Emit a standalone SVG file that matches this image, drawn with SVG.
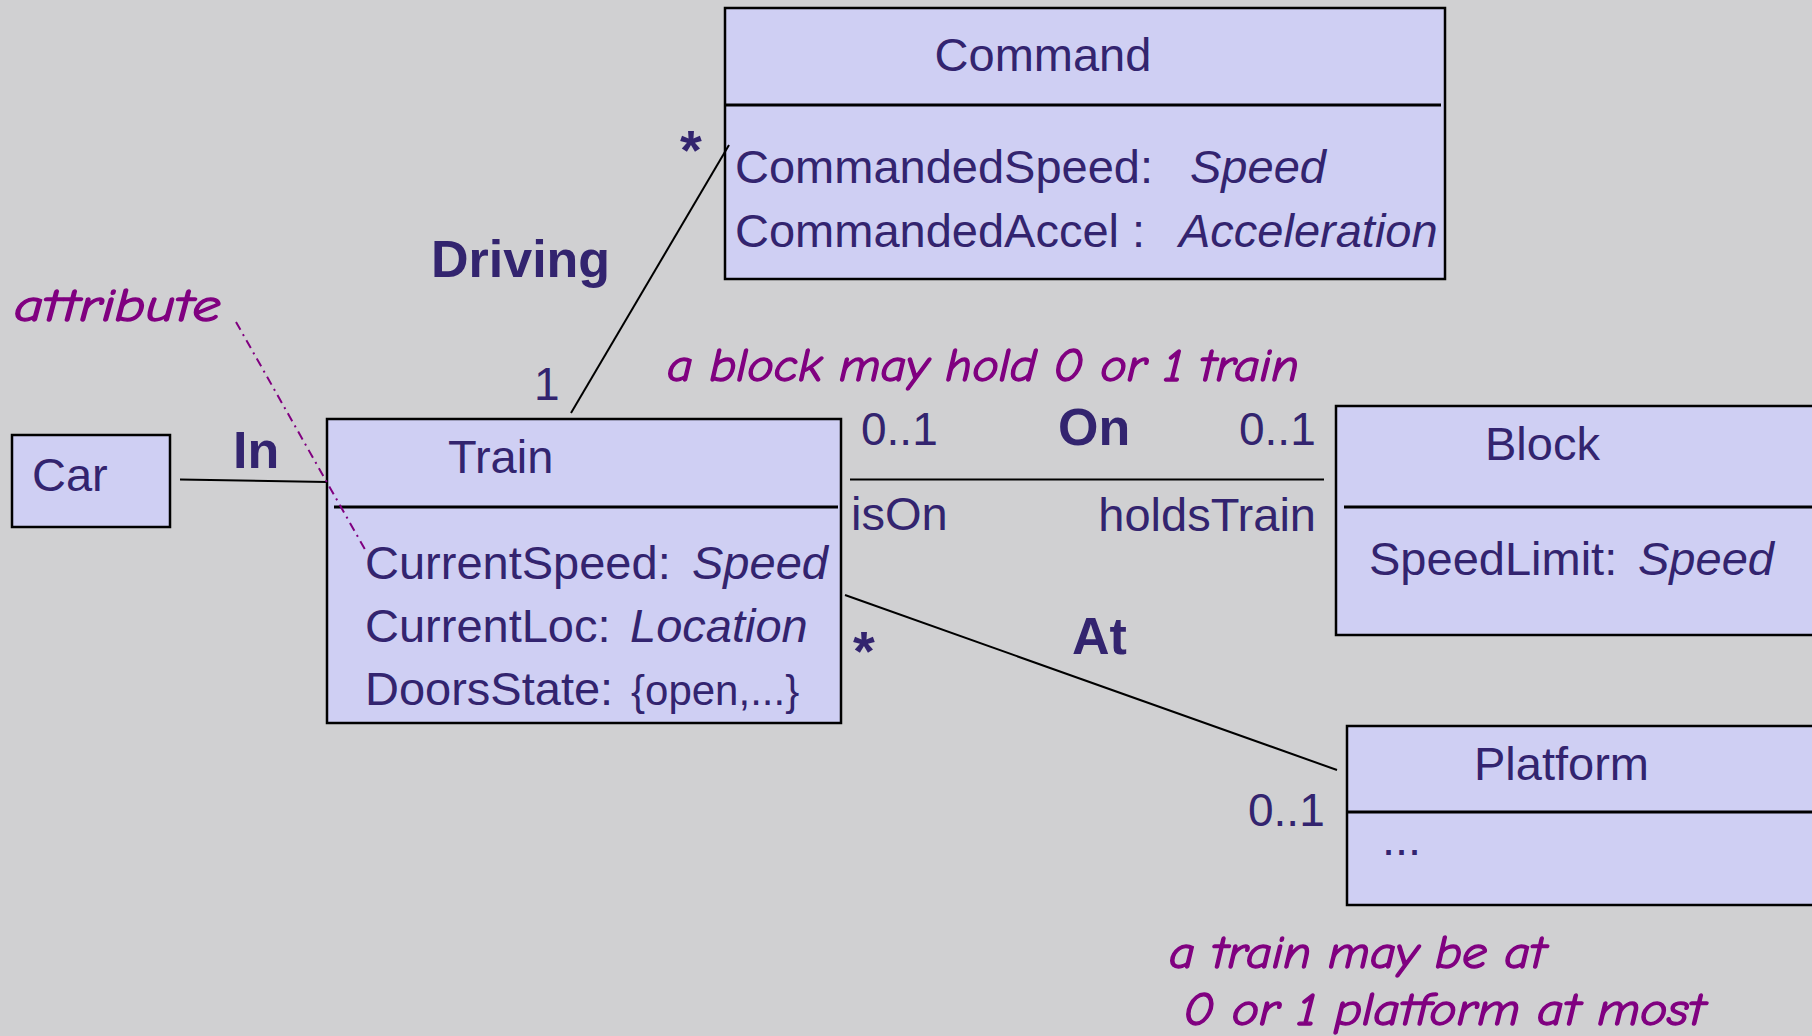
<svg xmlns="http://www.w3.org/2000/svg" width="1812" height="1036" viewBox="0 0 1812 1036">
  <style>
    .box { fill: #CFCFF3; stroke: #000; stroke-width: 2.5; }
    .div { stroke: #000; stroke-width: 3; fill: none; }
    .assoc { stroke: #000; stroke-width: 2; fill: none; }
    .note-link { stroke: #800080; stroke-width: 2; fill: none; stroke-dasharray: 9 5 2 5; }
    .t { font-family: "Liberation Sans", Arial, sans-serif; font-size: 47px; fill: #33246F; }
    .it { font-style: italic; }
    .small { font-size: 42px; }
    .bold { font-weight: bold; font-size: 52px; }
    .mult { font-size: 46px; }
    .star { font-weight: bold; font-size: 56px; }
    .note { font-family: "Comic Sans MS", "Comic Neue", "Liberation Sans", sans-serif; font-style: italic; font-size: 46px; fill: #800080; stroke: #800080; stroke-width: 1.3; }
  </style>

  <rect x="0" y="0" width="1812" height="1036" fill="#D0D0D2"/>

  <g id="car">
    <rect class="box" x="12" y="435" width="158" height="92"/>
    <text class="t" x="32" y="491">Car</text>
  </g>

  <g id="train">
    <rect class="box" x="327" y="419" width="514" height="304"/>
    <line class="div" x1="334" y1="507" x2="838" y2="507"/>
    <text class="t" x="448" y="473">Train</text>
    <text class="t" x="365" y="579">CurrentSpeed: <tspan class="it" x="692">Speed</tspan></text>
    <text class="t" x="365" y="642">CurrentLoc: <tspan class="it" x="630">Location</tspan></text>
    <text class="t" x="365" y="705">DoorsState: <tspan class="small" x="631">{open,...}</tspan></text>
  </g>

  <g id="command">
    <rect class="box" x="725" y="8" width="720" height="271"/>
    <line class="div" x1="725" y1="105" x2="1441" y2="105"/>
    <text class="t" x="1043" y="71" text-anchor="middle">Command</text>
    <text class="t" x="735" y="183">CommandedSpeed: <tspan class="it" x="1190">Speed</tspan></text>
    <text class="t" x="735" y="247">CommandedAccel : <tspan class="it" x="1179">Acceleration</tspan></text>
  </g>

  <g id="block">
    <rect class="box" x="1336" y="406" width="490" height="229"/>
    <line class="div" x1="1344" y1="507" x2="1812" y2="507"/>
    <text class="t" x="1485" y="460">Block</text>
    <text class="t" x="1369" y="575">SpeedLimit: <tspan class="it" x="1638">Speed</tspan></text>
  </g>

  <g id="platform">
    <rect class="box" x="1347" y="726" width="480" height="179"/>
    <line class="div" x1="1347" y1="812" x2="1812" y2="812"/>
    <text class="t" x="1474" y="780">Platform</text>
    <text class="t" x="1382" y="855">...</text>
  </g>

  <!-- associations and the note link -->
  <g id="connectors">
    <line class="assoc" x1="180" y1="479.5" x2="327" y2="482"/>
    <line class="assoc" x1="571" y1="413" x2="729" y2="145"/>
    <line class="assoc" x1="850" y1="479.5" x2="1324" y2="479.5"/>
    <line class="assoc" x1="845" y1="595" x2="1337" y2="770"/>
    <line class="note-link" x1="236" y1="322" x2="367" y2="553"/>
  </g>

  <!-- association labels -->
  <g id="labels">
    <text class="t bold" x="233" y="468">In</text>
    <text class="t bold" x="431" y="277">Driving</text>
    <text class="t mult" x="534" y="400">1</text>
    <text class="t star" x="680" y="169">*</text>
    <text class="t mult" x="861" y="445">0..1</text>
    <text class="t bold" x="1058" y="445">On</text>
    <text class="t mult" x="1239" y="445">0..1</text>
    <text class="t" x="851" y="530">isOn</text>
    <text class="t" x="1316" y="531" text-anchor="end">holdsTrain</text>
    <text class="t bold" x="1072" y="654">At</text>
    <text class="t star" x="853" y="670">*</text>
    <text class="t mult" x="1248" y="826">0..1</text>
  </g>

  <!-- notes -->
  <g id="notes">
    <text class="note" x="14" y="321" textLength="207" lengthAdjust="spacingAndGlyphs">attribute</text>
    <text class="note" x="667" y="381" textLength="632" lengthAdjust="spacingAndGlyphs">a block may hold 0 or 1 train</text>
    <text class="note" x="1169" y="968" textLength="377" lengthAdjust="spacingAndGlyphs">a train may be at</text>
    <text class="note" x="1183" y="1025" textLength="522" lengthAdjust="spacingAndGlyphs">0 or 1 platform at most</text>
  </g>
</svg>
